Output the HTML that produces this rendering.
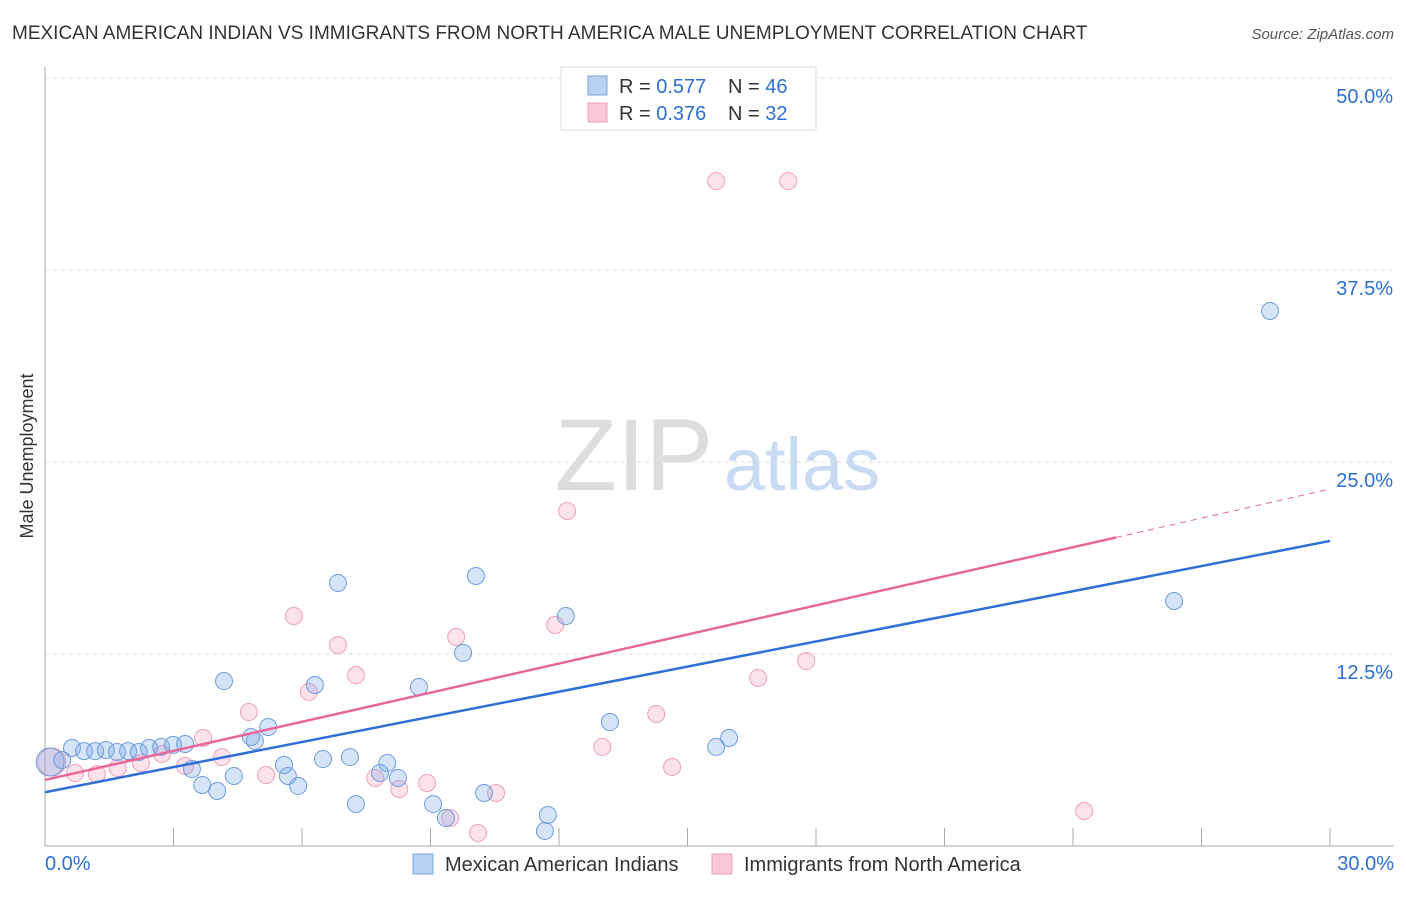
<!DOCTYPE html>
<html><head><meta charset="utf-8"><style>
body{margin:0;background:#fff;font-family:"Liberation Sans",sans-serif}
svg text{font-family:"Liberation Sans",sans-serif}
</style></head><body>
<svg id="chart" width="1406" height="892">
<text x="12" y="39" font-size="19" fill="#333">MEXICAN AMERICAN INDIAN VS IMMIGRANTS FROM NORTH AMERICA MALE UNEMPLOYMENT CORRELATION CHART</text>
<text x="1394" y="39" font-size="15" fill="#555" font-style="italic" text-anchor="end">Source: ZipAtlas.com</text>
<text x="33" y="456" font-size="18" fill="#333" text-anchor="middle" transform="rotate(-90 33 456)">Male Unemployment</text>
<g><text x="634" y="490" font-size="102" fill="#ddd" font-family="Liberation Serif" text-anchor="middle">ZIP</text><text x="802" y="490" font-size="74" fill="#c9daf3" text-anchor="middle">atlas</text></g>
<g id="grid"></g><g id="marks"></g>
<g>
<rect x="561" y="67" width="255" height="63" fill="#fff" stroke="#ddd"/>
<rect x="588" y="76" width="19" height="19" fill="#b9d2f3" stroke="#7aa6e0"/>
<text x="619" y="93" font-size="20" fill="#333">R = <tspan fill="#2f6fd6">0.577</tspan></text>
<text x="728" y="93" font-size="20" fill="#333">N = <tspan fill="#2f6fd6">46</tspan></text>
<rect x="588" y="103" width="19" height="19" fill="#f8c8d8" stroke="#eea0b8"/>
<text x="619" y="120" font-size="20" fill="#333">R = <tspan fill="#2f6fd6">0.376</tspan></text>
<text x="728" y="120" font-size="20" fill="#333">N = <tspan fill="#2f6fd6">32</tspan></text>
</g>
<g>
<rect x="413" y="854" width="20" height="20" fill="#b9d2f3" stroke="#7aa6e0"/>
<text x="445" y="871" font-size="20" fill="#333">Mexican American Indians</text>
<rect x="712" y="854" width="20" height="20" fill="#f8c8d8" stroke="#eea0b8"/>
<text x="744" y="871" font-size="20" fill="#333">Immigrants from North America</text>
</g>
</svg>
<script>
const xTicks=[0,3,6,9,12,15,18,21,24,27,30];
const yTicks=[12.5,25,37.5,50];
const yTickLabels=["12.5%","25.0%","37.5%","50.0%"];
const blueX=[0.12,0.40,0.63,0.91,1.17,1.42,1.68,1.94,2.19,2.43,2.71,2.99,3.27,3.43,3.67,4.02,4.18,4.41,4.81,4.90,5.21,5.58,5.67,5.91,6.30,6.49,6.84,7.12,7.26,7.82,7.99,8.24,8.73,9.06,9.36,9.76,10.06,10.25,11.74,11.67,12.16,13.19,15.67,15.97,26.36,28.60];
const blueY=[5.47,5.60,6.38,6.18,6.18,6.25,6.12,6.18,6.12,6.38,6.45,6.58,6.64,5.01,3.97,3.58,10.74,4.56,7.10,6.84,7.75,5.27,4.56,3.91,10.48,5.66,17.12,5.79,2.73,4.75,5.40,4.43,10.35,2.73,1.82,12.57,17.58,3.45,2.02,0.98,14.97,8.07,6.45,7.03,15.95,34.83];
const pinkX=[0.16,0.70,1.21,1.70,2.24,2.73,3.27,3.69,4.13,4.76,5.16,5.81,6.16,6.84,7.26,7.71,8.27,8.92,9.46,9.60,10.11,10.53,11.91,12.19,13.01,14.27,14.64,15.67,16.65,17.35,17.77,24.26];
const pinkY=[5.47,4.75,4.69,5.08,5.40,5.99,5.21,7.03,5.79,8.72,4.62,14.97,10.03,13.09,11.13,4.43,3.71,4.10,1.82,13.61,0.85,3.45,14.39,21.81,6.45,8.59,5.14,43.29,10.94,43.29,12.04,2.28];
const blueTrend=[3.5,19.86];
const pinkTrend=[4.3,23.24];
const pinkSolidEnd=25;
const X=v=>45+v*(1285/30), Y=v=>846-v*15.36;
const NS="http://www.w3.org/2000/svg";
function mk(p,t,a){const e=document.createElementNS(NS,t);for(const k in a)e.setAttribute(k,a[k]);p.appendChild(e);return e;}
const g=document.getElementById('grid'), m=document.getElementById('marks');
yTicks.forEach((t,i)=>{
 const l=mk(g,'line',{x1:45,x2:1394,y1:Y(t),y2:Y(t),stroke:'#ddd','stroke-dasharray':'4,4'});
 
 
 const tx=mk(g,'text',{x:1393,y:Y(t)+25,'font-size':20,fill:'#2f6fd6','text-anchor':'end'});
 tx.textContent=yTickLabels[i];
 
 
});
mk(g,'line',{x1:45,x2:45,y1:67,y2:846,stroke:'#aaa'});
mk(g,'line',{x1:45,x2:1394,y1:846,y2:846,stroke:'#aaa'});
xTicks.forEach(t=>{const l=mk(g,'line',{x1:X(t),x2:X(t),y1:828,y2:846,stroke:'#aaa'});
 
 });
const t0=mk(g,'text',{x:45,y:870,'font-size':20,fill:'#2f6fd6'});t0.textContent='0.0%';


const t1=mk(g,'text',{x:1394,y:870,'font-size':20,fill:'#2f6fd6','text-anchor':'end'});t1.textContent='30.0%';


function pts(xs,ys,fill,stroke,name){xs.forEach((x,i)=>{
 const c=mk(m,'circle',{cx:X(x),cy:Y(ys[i]),r:i==0?14:8.5,fill:fill,stroke:stroke,'stroke-width':1});
 
 });}
pts(pinkX,pinkY,'rgba(244,160,190,0.3)','#eea0b8','pink-point');
pts(blueX,blueY,'rgba(120,165,230,0.3)','#6f9de0','blue-point');
const bl=mk(m,'line',{x1:X(0),y1:Y(blueTrend[0]),x2:X(30),y2:Y(blueTrend[1]),stroke:'#2f6fd6','stroke-width':2.5});


const py=v=>pinkTrend[0]+(pinkTrend[1]-pinkTrend[0])*v/30;
const pl=mk(m,'line',{x1:X(0),y1:Y(py(0)),x2:X(pinkSolidEnd),y2:Y(py(pinkSolidEnd)),stroke:'#e8679a','stroke-width':2.5});


const pd=mk(m,'line',{x1:X(pinkSolidEnd),y1:Y(py(pinkSolidEnd)),x2:X(30),y2:Y(py(30)),stroke:'#e8679a','stroke-width':1,'stroke-dasharray':'6,5'});


</script>
</body></html>
